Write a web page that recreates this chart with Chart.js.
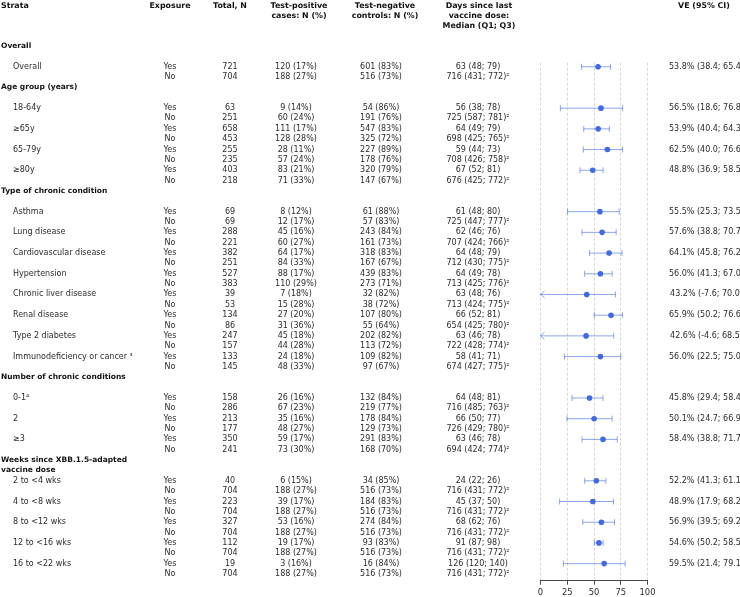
<!DOCTYPE html>
<html><head><meta charset="utf-8">
<script src="https://cdn.jsdelivr.net/npm/chart.js@4.4.1/dist/chart.umd.min.js"></script>
<style>
html,body{margin:0;padding:0;background:#fff;width:740px;height:597px;overflow:hidden;}
#wrap{position:relative;width:740px;height:597px;overflow:hidden;}
canvas{position:absolute;left:0;top:0;}
.t{position:absolute;white-space:nowrap;font-family:'DejaVu Sans',sans-serif;font-size:8px;line-height:1;color:#2b2b2b;}
.c{transform:translate(-50%,-50%);text-align:center;}
.l{transform:translate(0,-50%);}
.h{position:absolute;white-space:nowrap;font-family:'DejaVu Sans',sans-serif;font-size:7.9px;line-height:10px;font-weight:bold;color:#111;text-align:center;transform:translate(-50%,0);}
.b{font-weight:bold;color:#111;font-size:7.5px;}
</style></head><body>
<div id="wrap"><canvas id="c" width="740" height="597"></canvas></div>
<script>
// ---------- data ----------
const sections = ["Overall", "Age group (years)", "Type of chronic condition", "Number of chronic conditions", ["Weeks since XBB.1.5-adapted", "vaccine dose"]];
const groups = ["Overall","18-64y","≥65y","65-79y","≥80y","Asthma","Lung disease","Cardiovascular disease","Hypertension","Chronic liver disease","Renal disease","Type 2 diabetes","Immunodeficiency or cancer ³","0-1⁴","2","≥3","2 to <4 wks","4 to <8 wks","8 to <12 wks","12 to <16 wks","16 to <22 wks"];
const groupSection = [0,1,1,1,1,2,2,2,2,2,2,2,2,3,3,3,4,4,4,4,4];
const exposures = ["Yes","No"];
const totalYes = [721,63,658,255,403,69,288,382,527,39,134,247,133,158,213,350,40,223,327,112,19];
const totalNo  = [704,251,453,235,218,69,221,251,383,53,86,157,145,286,177,241,704,704,704,704,704];
const casesYes = ["120 (17%)","9 (14%)","111 (17%)","28 (11%)","83 (21%)","8 (12%)","45 (16%)","64 (17%)","88 (17%)","7 (18%)","27 (20%)","45 (18%)","24 (18%)","26 (16%)","35 (16%)","59 (17%)","6 (15%)","39 (17%)","53 (16%)","19 (17%)","3 (16%)"];
const casesNo  = ["188 (27%)","60 (24%)","128 (28%)","57 (24%)","71 (33%)","12 (17%)","60 (27%)","84 (33%)","110 (29%)","15 (28%)","31 (36%)","44 (28%)","48 (33%)","67 (23%)","48 (27%)","73 (30%)","188 (27%)","188 (27%)","188 (27%)","188 (27%)","188 (27%)"];
const controlsYes = ["601 (83%)","54 (86%)","547 (83%)","227 (89%)","320 (79%)","61 (88%)","243 (84%)","318 (83%)","439 (83%)","32 (82%)","107 (80%)","202 (82%)","109 (82%)","132 (84%)","178 (84%)","291 (83%)","34 (85%)","184 (83%)","274 (84%)","93 (83%)","16 (84%)"];
const controlsNo  = ["516 (73%)","191 (76%)","325 (72%)","178 (76%)","147 (67%)","57 (83%)","161 (73%)","167 (67%)","273 (71%)","38 (72%)","55 (64%)","113 (72%)","97 (67%)","219 (77%)","129 (73%)","168 (70%)","516 (73%)","516 (73%)","516 (73%)","516 (73%)","516 (73%)"];
const daysYes = ["63 (48; 79)","56 (38; 78)","64 (49; 79)","59 (44; 73)","67 (52; 81)","61 (48; 80)","62 (46; 76)","64 (48; 79)","64 (49; 78)","63 (48; 76)","66 (52; 81)","63 (46; 78)","58 (41; 71)","64 (48; 81)","66 (50; 77)","63 (46; 78)","24 (22; 26)","45 (37; 50)","68 (62; 76)","91 (87; 98)","126 (120; 140)"];
const daysNo  = ["716 (431; 772)²","725 (587; 781)²","698 (425; 765)²","708 (426; 758)²","676 (425; 772)²","725 (447; 777)²","707 (424; 766)²","712 (430; 775)²","713 (425; 776)²","713 (424; 775)²","654 (425; 780)²","722 (428; 774)²","674 (427; 775)²","716 (485; 763)²","726 (429; 780)²","694 (424; 774)²","716 (431; 772)²","716 (431; 772)²","716 (431; 772)²","716 (431; 772)²","716 (431; 772)²"];
const ve     = [53.8,56.5,53.9,62.5,48.8,55.5,57.6,64.1,56.0,43.2,65.9,42.6,56.0,45.8,50.1,58.4,52.2,48.9,56.9,54.6,59.5];
const veLow  = [38.4,18.6,40.4,40.0,36.9,25.3,38.8,45.8,41.3,-7.6,50.2,-4.6,22.5,29.4,24.7,38.8,41.3,17.9,39.5,50.2,21.4];
const veHigh = [65.4,76.8,64.3,76.6,58.5,73.5,70.7,76.2,67.0,70.0,76.6,68.5,75.0,58.4,66.9,71.7,61.1,68.2,69.2,58.5,79.1];
const xTicks = [0,25,50,75,100];
const colHeaders = [["Strata"],["Exposure"],["Total, N"],["Test-positive","cases: N (%)"],["Test-negative","controls: N (%)"],["Days since last","vaccine dose:","Median (Q1; Q3)"],["VE (95% CI)"]];

// ---------- row layout (table structure) ----------
const sectionRow = [];
const rowYes = [];
let r = 0;
sections.forEach((s, si) => {
  sectionRow.push(r);
  r += 2;
  groups.forEach((g, gi) => {
    if (groupSection[gi] === si) { rowYes[gi] = r; r += 2; }
  });
});
const lastRow = r - 1;

const ciColor = 'rgba(65,105,225,0.6)';
const ptColor = '#4169e1';

const ciPlugin = {
  id: 'ci',
  beforeDatasetsDraw(chart) {
    const {ctx, scales: {x, y}} = chart;
    ctx.save();
    ctx.strokeStyle = ciColor;
    ctx.lineWidth = 1;
    ve.forEach((v, i) => {
      const yy = y.getPixelForValue(rowYes[i]);
      const lo = veLow[i], hi = veHigh[i];
      const x1 = x.getPixelForValue(Math.max(lo, x.min));
      const x2 = x.getPixelForValue(hi);
      ctx.beginPath(); ctx.moveTo(x1, yy); ctx.lineTo(x2, yy); ctx.stroke();
      ctx.beginPath(); ctx.moveTo(x2, yy - 3); ctx.lineTo(x2, yy + 3); ctx.stroke();
      ctx.beginPath();
      if (lo >= x.min) { ctx.moveTo(x1, yy - 3); ctx.lineTo(x1, yy + 3); }
      else { ctx.moveTo(x1 + 4, yy - 3.5); ctx.lineTo(x1, yy); ctx.lineTo(x1 + 4, yy + 3.5); }
      ctx.stroke();
    });
    ctx.restore();
  }
};

const chart = new Chart(document.getElementById('c'), {
  type: 'scatter',
  data: {
    datasets: [{
      data: ve.map((v, i) => ({x: v, y: rowYes[i]})),
      backgroundColor: ptColor, borderColor: ptColor,
      pointRadius: 2.8, pointHoverRadius: 2.8, borderWidth: 0
    }]
  },
  options: {
    responsive: false, animation: false,
    layout: {padding: {left: 540.5, right: 92.5, top: 62.7, bottom: 0}},
    plugins: {legend: {display: false}, tooltip: {enabled: false}},
    scales: {
      x: {
        type: 'linear', min: 0, max: 100, position: 'bottom',
        afterBuildTicks: (s) => { s.ticks = xTicks.map(v => ({value: v})); },
        afterFit: (s) => { s.height = 16.3; },
        ticks: {color: '#2b2b2b', font: {family: 'DejaVu Sans', size: 8.4, lineHeight: 1}, padding: 4.2, maxRotation: 0},
        grid: {color: '#d6d6d6', lineWidth: 1, tickLength: 4, tickColor: '#444', tickWidth: 1, tickBorderDash: []},
        border: {display: true, color: '#444', width: 1, dash: [3, 2]}
      },
      y: {type: 'linear', reverse: true, min: 1.61, max: lastRow + 0.65, display: false}
    }
  },
  plugins: [ciPlugin]
});

// ---------- table text (real HTML text, positioned with the chart's y scale) ----------
const wrap = document.getElementById('wrap');
const yS = chart.scales.y;
function txt(s, x, row, cls) {
  const d = document.createElement('div');
  d.className = 't ' + cls;
  d.textContent = s;
  d.style.left = x + 'px';
  d.style.top = yS.getPixelForValue(row) + 'px';
  wrap.appendChild(d);
}
const colX = {strata: 1, label: 13, exp: 170, total: 230, cases: 296, controls: 381, days: 478, ve: 706.5};
const headX = [null, 170, 230, 299, 385, 479, 704];
colHeaders.forEach((lines, i) => {
  const d = document.createElement('div');
  d.className = 'h';
  d.innerHTML = lines.map(l => l.replace(/&/g,'&amp;').replace(/</g,'&lt;')).join('<br>');
  if (i === 0) { d.style.left = '1px'; d.style.transform = 'none'; d.style.textAlign = 'left'; }
  else d.style.left = headX[i] + 'px';
  d.style.top = '0.5px';
  wrap.appendChild(d);
});
sections.forEach((s, si) => {
  const lines = Array.isArray(s) ? s : [s];
  lines.forEach((l, k) => txt(l, colX.strata, sectionRow[si] + k, 'l b'));
});
groups.forEach((g, i) => {
  const ry = rowYes[i], rn = ry + 1;
  txt(g, colX.label, ry, 'l');
  txt(exposures[0], colX.exp, ry, 'c');
  txt(exposures[1], colX.exp, rn, 'c');
  txt(String(totalYes[i]), colX.total, ry, 'c');
  txt(String(totalNo[i]), colX.total, rn, 'c');
  txt(casesYes[i], colX.cases, ry, 'c');
  txt(casesNo[i], colX.cases, rn, 'c');
  txt(controlsYes[i], colX.controls, ry, 'c');
  txt(controlsNo[i], colX.controls, rn, 'c');
  txt(daysYes[i], colX.days, ry, 'c');
  txt(daysNo[i], colX.days, rn, 'c');
  txt(ve[i].toFixed(1) + '% (' + veLow[i].toFixed(1) + '; ' + veHigh[i].toFixed(1) + ')', colX.ve, ry, 'c');
});
</script>
</body></html>
